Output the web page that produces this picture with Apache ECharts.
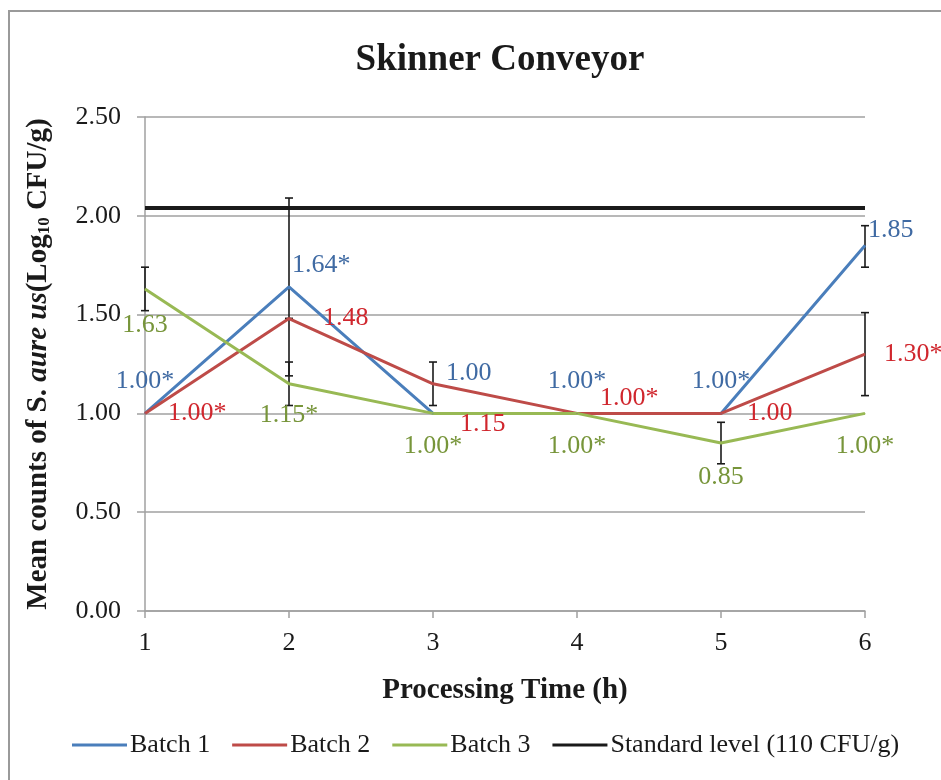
<!DOCTYPE html>
<html>
<head>
<meta charset="utf-8">
<script src="https://cdn.jsdelivr.net/npm/echarts@6/dist/echarts.min.js"></script>
<style>html,body{margin:0;padding:0;background:#fff}#c{width:941px;height:780px}</style>
</head>
<body>
<div id="c"></div>
<script>
// ---- data ----
const hours = ['1', '2', '3', '4', '5', '6'];
const batch1 = [1.00, 1.64, 1.00, 1.00, 1.00, 1.85];
const batch2 = [1.00, 1.48, 1.15, 1.00, 1.00, 1.30];
const batch3 = [1.63, 1.15, 1.00, 1.00, 0.85, 1.00];
const standard = [2.04, 2.04, 2.04, 2.04, 2.04, 2.04];
const batch1Labels = ['1.00*', '1.64*', '1.00', '1.00*', '1.00*', '1.85'];
const batch2Labels = ['1.00*', '1.48', '1.15', '1.00*', '1.00', '1.30*'];
const batch3Labels = ['1.63', '1.15*', '1.00*', '1.00*', '0.85', '1.00*'];
// error bars: low / high (null = none)
const batch1Low  = [null, 1.19, null, null, null, 1.74];
const batch1High = [null, 2.09, null, null, null, 1.95];
const batch2Low  = [null, 1.48, 1.04, null, null, 1.09];
const batch2High = [null, 1.48, 1.26, null, null, 1.51];
const batch3Low  = [1.52, 1.04, null, null, 0.745, null];
const batch3High = [1.74, 1.26, null, null, 0.955, null];
const yTicks = ['0.00', '0.50', '1.00', '1.50', '2.00', '2.50'];

// ---- label layout (styling only) ----
const b1Lay = [['center',0,-32],['left',3,-22],['left',13,-40],['center',0,-32],['center',0,-32],['left',3,-15]];
const b2Lay = [['left',23,0],['left',34,0],['left',27,40],['left',23,-15],['left',26,0],['left',19,0]];
const b3Lay = [['center',0,36],['center',0,31],['center',0,33],['center',0,33],['center',0,34],['center',0,33]];

const FONT = 'Liberation Serif';
const C1 = '#4a7ebb', C2 = '#be4b48', C3 = '#98b954';
const L1 = '#3f6aa3', L2 = '#d0262d', L3 = '#77953a';

function lineData(vals, labels, lay, color) {
  return vals.map((v, i) => ({
    value: v,
    label: {
      show: true,
      formatter: labels[i],
      position: 'inside',
      align: lay[i][0],
      verticalAlign: 'middle',
      offset: [lay[i][1], lay[i][2]],
      color: color,
      fontFamily: FONT,
      fontSize: 26
    }
  }));
}
function errData(lo, hi) {
  const out = [];
  lo.forEach((l, i) => { if (l !== null) out.push([i, l, hi[i]]); });
  return out;
}
const errAll = errData(batch1Low, batch1High)
  .concat(errData(batch2Low, batch2High))
  .concat(errData(batch3Low, batch3High));

function renderErr(params, api) {
  const x = api.value(0);
  const p1 = api.coord([x, api.value(1)]);
  const p2 = api.coord([x, api.value(2)]);
  const w = 4;
  const st = { stroke: '#1a1a1a', lineWidth: 1.6 };
  return {
    type: 'group',
    children: [
      { type: 'line', shape: { x1: p1[0], y1: p1[1], x2: p2[0], y2: p2[1] }, style: st },
      { type: 'line', shape: { x1: p1[0] - w, y1: p1[1], x2: p1[0] + w, y2: p1[1] }, style: st },
      { type: 'line', shape: { x1: p2[0] - w, y1: p2[1], x2: p2[0] + w, y2: p2[1] }, style: st }
    ]
  };
}

const chart = echarts.init(document.getElementById('c'), null, { renderer: 'canvas' });
chart.setOption({
  animation: false,
  backgroundColor: '#fff',
  title: {
    text: 'Skinner Conveyor',
    left: 495, top: 37, textAlign: 'center',
    textStyle: { fontFamily: FONT, fontSize: 37, fontWeight: 'bold', color: '#1a1a1a' }
  },
  graphic: [{
    type: 'rect', shape: { x: 9, y: 11, width: 1000, height: 900 },
    style: { fill: 'none', stroke: '#9a9a9a', lineWidth: 2 }, silent: true
  }],
  legend: {
    bottom: 17, left: 67,
    data: ['Batch 1', 'Batch 2', 'Batch 3', 'Standard level (110 CFU/g)'],
    icon: 'rect', itemWidth: 55, itemHeight: 3, itemGap: 22,
    textStyle: { fontFamily: FONT, fontSize: 26, color: '#1a1a1a', padding: [0, 0, 0, -2] }
  },
  grid: { left: 145, right: 76, top: 117, bottom: 169 },
  xAxis: {
    type: 'category', data: hours, boundaryGap: false,
    axisLine: { lineStyle: { color: '#a0a0a0', width: 1.5 } },
    axisTick: { show: true, length: 7, lineStyle: { color: '#a0a0a0', width: 1.5 } },
    axisLabel: { fontFamily: FONT, fontSize: 26, color: '#1a1a1a', margin: 19 },
    name: 'Processing Time (h)', nameLocation: 'middle', nameGap: 65,
    nameTextStyle: { fontFamily: FONT, fontSize: 29, fontWeight: 'bold', color: '#1a1a1a' }
  },
  yAxis: {
    type: 'value', min: 0, max: 2.5, interval: 0.5,
    axisLine: { show: true, lineStyle: { color: '#a0a0a0', width: 1.5 } },
    axisTick: { show: true, length: 8, lineStyle: { color: '#a0a0a0', width: 1.5 } },
    splitLine: { lineStyle: { color: '#a0a0a0', width: 1.5 } },
    axisLabel: {
      fontFamily: FONT, fontSize: 26, color: '#1a1a1a', margin: 24,
      formatter: v => yTicks[Math.round(v / 0.5)]
    },
    name: '{b|Mean counts of S. }{i|aure us}{b|(Log}{s|10}{b| CFU/g)}',
    nameLocation: 'middle', nameGap: 92, nameRotate: 90,
    nameTextStyle: {
      rich: {
        b: { fontFamily: FONT, fontSize: 29, fontWeight: 'bold', color: '#1a1a1a' },
        i: { fontFamily: FONT, fontSize: 29, fontWeight: 'bold', fontStyle: 'italic', color: '#1a1a1a' },
        s: { fontFamily: FONT, fontSize: 17, fontWeight: 'bold', color: '#1a1a1a', verticalAlign: 'bottom', padding: [11, 0, 0, 0] }
      }
    }
  },
  series: [
    {
      name: 'Standard level (110 CFU/g)', type: 'line', data: standard,
      symbol: 'none', lineStyle: { color: '#1a1a1a', width: 4 }, itemStyle: { color: '#1a1a1a' }, z: 3
    },
    {
      name: 'errors', type: 'custom', renderItem: renderErr, data: errAll, z: 4
    },
    {
      name: 'Batch 1', type: 'line', data: lineData(batch1, batch1Labels, b1Lay, L1),
      symbol: 'circle', symbolSize: 1, lineStyle: { color: C1, width: 3 }, itemStyle: { color: C1 }, z: 5
    },
    {
      name: 'Batch 2', type: 'line', data: lineData(batch2, batch2Labels, b2Lay, L2),
      symbol: 'circle', symbolSize: 1, lineStyle: { color: C2, width: 3 }, itemStyle: { color: C2 }, z: 5
    },
    {
      name: 'Batch 3', type: 'line', data: lineData(batch3, batch3Labels, b3Lay, L3),
      symbol: 'circle', symbolSize: 1, lineStyle: { color: C3, width: 3 }, itemStyle: { color: C3 }, z: 5
    }
  ]
});
</script>
</body>
</html>
